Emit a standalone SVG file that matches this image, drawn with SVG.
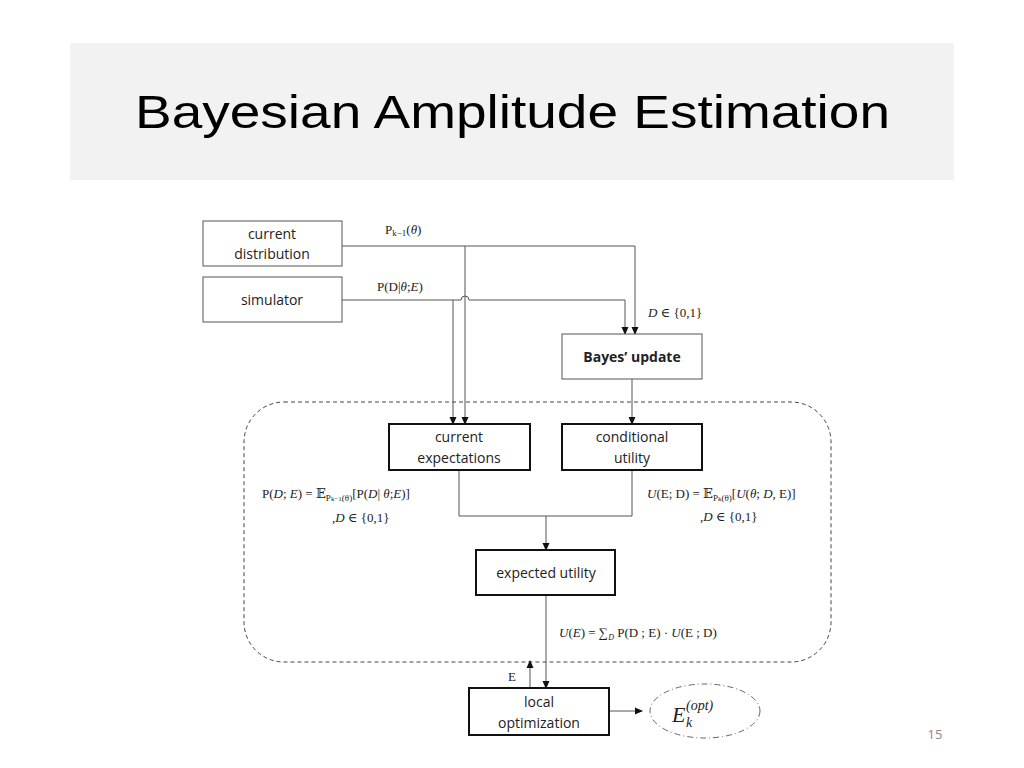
<svg xmlns="http://www.w3.org/2000/svg" width="1024" height="768" viewBox="0 0 1024 768">
<style>
.box{fill:#fff;stroke:#555;stroke-width:1}
.tb{fill:#fff;stroke:#111;stroke-width:2}
.t{font-family:"Open Sans","Liberation Sans",sans-serif;font-size:14px;fill:#222;text-anchor:middle}
.m{font-family:"Liberation Serif","DejaVu Serif",serif;font-size:13px;fill:#222}
.c{fill:none;stroke:#555;stroke-width:1}
</style>
<defs><marker id="a" markerWidth="8" markerHeight="8" refX="7" refY="4" orient="auto" markerUnits="userSpaceOnUse"><path d="M0,0.5 L8,4 L0,7.5z" fill="#111"/></marker></defs>
<rect x="70" y="43" width="884" height="137" fill="#f2f2f2"/>
<text x="135" y="128" font-family="Liberation Sans, Arial, sans-serif" font-size="46" textLength="755" lengthAdjust="spacingAndGlyphs" fill="#000">Bayesian Amplitude Estimation</text>
<rect x="244" y="402" width="587" height="260" rx="40" fill="none" stroke="#444" stroke-dasharray="4,3"/>
<g id="connectors">
<path class="c" d="M342,246 H635 V334" marker-end="url(#a)"/>
<path class="c" d="M465,246 V424" marker-end="url(#a)"/>
<path class="c" d="M342,300 H461 A4,4 0 0 1 469,300 H625 V334" marker-end="url(#a)"/>
<path class="c" d="M453,300 V424" marker-end="url(#a)"/>
<path class="c" d="M632,379 V424" marker-end="url(#a)"/>
<path class="c" d="M459,470 V516 H632 V470"/>
<path class="c" d="M546,516 V550" marker-end="url(#a)"/>
<path class="c" d="M546,595 V688" marker-end="url(#a)"/>
<path class="c" d="M530,688 V661" marker-end="url(#a)"/>
<path class="c" d="M609,711 H642" marker-end="url(#a)"/>
</g>
<g id="current-distribution"><rect class="box" x="203" y="221" width="139" height="45"/><text class="t" x="272" y="239">current</text><text class="t" x="272" y="259">distribution</text></g>
<g id="simulator"><rect class="box" x="203" y="277" width="139" height="45"/><text class="t" x="272" y="305">simulator</text></g>
<g id="bayes"><rect class="box" x="562" y="334" width="140" height="45"/><text class="t" x="632" y="362" font-weight="bold">Bayes’ update</text></g>
<g id="current-expectations"><rect class="tb" x="389" y="424" width="141" height="46"/><text class="t" x="459" y="442">current</text><text class="t" x="459" y="463">expectations</text></g>
<g id="conditional-utility"><rect class="tb" x="562" y="424" width="140" height="46"/><text class="t" x="632" y="442">conditional</text><text class="t" x="632" y="463">utility</text></g>
<g id="expected-utility"><rect class="tb" x="476" y="550" width="139" height="45"/><text class="t" x="546" y="578">expected utility</text></g>
<g id="local-optimization"><rect class="tb" x="469" y="688" width="140" height="47"/><text class="t" x="539" y="707">local</text><text class="t" x="539" y="728">optimization</text></g>
<g id="e-opt"><ellipse cx="705" cy="711" rx="55" ry="27" fill="none" stroke="#666" stroke-dasharray="6,3,1,3"/>
<text x="672" y="722" font-family="Liberation Serif,serif" font-style="italic" font-size="22" fill="#222">E</text><text x="686" y="710" font-family="Liberation Serif,serif" font-style="italic" font-size="14" fill="#222">(opt)</text><text x="686" y="727" font-family="Liberation Serif,serif" font-style="italic" font-size="14" fill="#222">k</text></g>
<text class="m" x="385" y="234">P<tspan font-size="9" dy="2">k−1</tspan><tspan dy="-2">(<tspan font-style="italic">θ</tspan>)</tspan></text>
<text class="m" x="377" y="291">P(D|<tspan font-style="italic">θ</tspan>;<tspan font-style="italic">E</tspan>)</text>
<text class="m" x="648" y="317"><tspan font-style="italic">D</tspan> ∈ {0,1}</text>
<text class="m" x="262" y="498">P(<tspan font-style="italic">D</tspan>; <tspan font-style="italic">E</tspan>) = 𝔼<tspan font-size="9" dy="3">P<tspan font-size="7">k−1</tspan>(θ)</tspan><tspan dy="-3">[P(<tspan font-style="italic">D</tspan>| <tspan font-style="italic">θ</tspan>;<tspan font-style="italic">E</tspan>)]</tspan></text>
<text class="m" x="332" y="522" font-size="9">,<tspan font-style="italic">D</tspan> ∈ {0,1}</text>
<text class="m" x="647" y="498"><tspan font-style="italic">U</tspan>(E; D) = 𝔼<tspan font-size="9" dy="3">P<tspan font-size="7">k</tspan>(θ)</tspan><tspan dy="-3">[<tspan font-style="italic">U</tspan>(<tspan font-style="italic">θ</tspan>; <tspan font-style="italic">D</tspan>, E)]</tspan></text>
<text class="m" x="700" y="521" font-size="9">,<tspan font-style="italic">D</tspan> ∈ {0,1}</text>
<text class="m" x="559" y="637"><tspan font-style="italic">U</tspan>(<tspan font-style="italic">E</tspan>) = ∑<tspan font-size="8" font-style="italic" dy="3">D</tspan><tspan dy="-3"> P(D ; E) · <tspan font-style="italic">U</tspan>(E ; D)</tspan></text>
<text class="m" x="508" y="681">E</text>
<text x="935" y="739" font-family="Open Sans,Liberation Sans,sans-serif" font-size="13" fill="#888" text-anchor="middle">15</text>
</svg>
